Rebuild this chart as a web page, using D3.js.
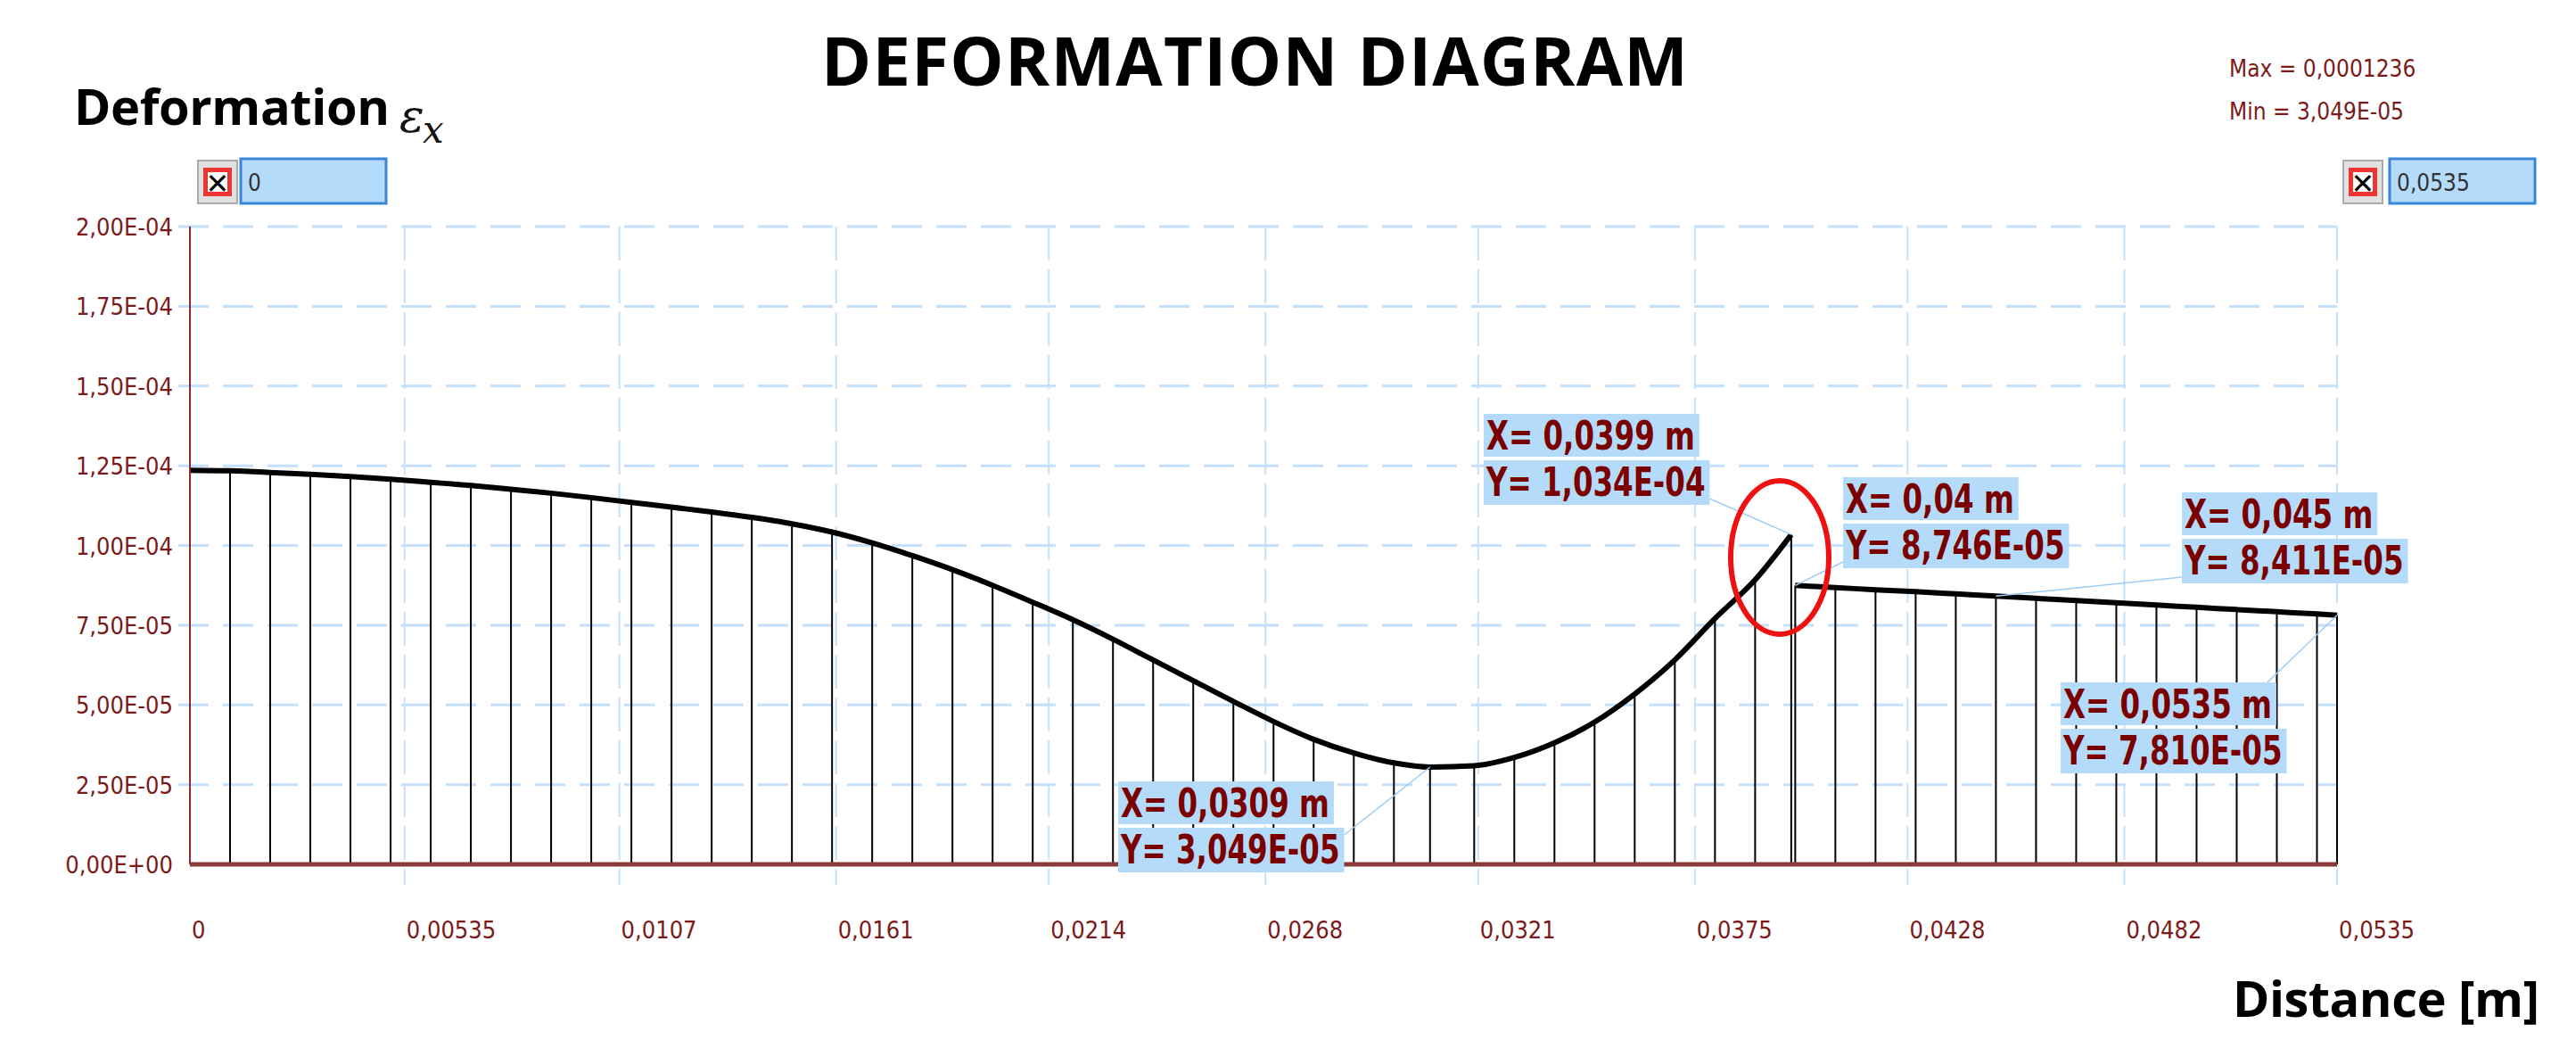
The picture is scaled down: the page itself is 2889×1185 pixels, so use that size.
<!DOCTYPE html>
<html>
<head>
<meta charset="utf-8">
<script src="https://cdn.jsdelivr.net/npm/d3@7"></script>
<style>
  body { margin: 0; background: #fff; }
  svg { display: block; }
</style>
</head>
<body>
<svg id="chart"></svg>
<script>
// distance [m] and strain (in 1e-5)
const xsA = [0, 0.001, 0.002, 0.003, 0.004, 0.005, 0.006, 0.007, 0.008, 0.009, 0.010,
  0.011, 0.012, 0.013, 0.014, 0.015, 0.016, 0.017, 0.018, 0.019, 0.020, 0.021, 0.022,
  0.023, 0.024, 0.025, 0.026, 0.027, 0.028, 0.029, 0.030, 0.0309, 0.032, 0.033, 0.034,
  0.035, 0.036, 0.037, 0.038, 0.039, 0.0399]
const ysA = [12.36, 12.34, 12.29, 12.23, 12.16, 12.08, 11.98, 11.88, 11.76, 11.64, 11.50,
  11.35, 11.20, 11.05, 10.88, 10.68, 10.42, 10.08, 9.68, 9.24, 8.75, 8.22, 7.67,
  7.06, 6.41, 5.76, 5.11, 4.48, 3.92, 3.49, 3.18, 3.049, 3.09, 3.35, 3.81,
  4.46, 5.34, 6.41, 7.71, 8.92, 10.34]
const xsB = [0.04, 0.041, 0.042, 0.043, 0.044, 0.045, 0.046, 0.047, 0.048, 0.049, 0.050,
  0.051, 0.052, 0.053, 0.0535]
const ysB = [8.746, 8.68, 8.61, 8.55, 8.48, 8.411, 8.34, 8.27, 8.20, 8.13, 8.06,
  7.99, 7.92, 7.85, 7.810]

const xTicks = [0, 0.00535, 0.0107, 0.0161, 0.0214, 0.0268, 0.0321, 0.0375, 0.0428, 0.0482, 0.0535]
const xTickLabels = ['0', '0,00535', '0,0107', '0,0161', '0,0214', '0,0268', '0,0321', '0,0375', '0,0428', '0,0482', '0,0535']
const yTicks = [0, 2.5, 5, 7.5, 10, 12.5, 15, 17.5, 20]
const yTickLabels = ['0,00E+00', '2,50E-05', '5,00E-05', '7,50E-05', '1,00E-04', '1,25E-04', '1,50E-04', '1,75E-04', '2,00E-04']

// annotated points: [x, y, line1, line2]
const notes = [
  [0.0399, 10.34, 'X= 0,0399 m', 'Y= 1,034E-04'],
  [0.04, 8.746, 'X= 0,04 m', 'Y= 8,746E-05'],
  [0.045, 8.411, 'X= 0,045 m', 'Y= 8,411E-05'],
  [0.0535, 7.810, 'X= 0,0535 m', 'Y= 7,810E-05'],
  [0.0309, 3.049, 'X= 0,0309 m', 'Y= 3,049E-05']
]
// box top-left corners for each note
const notePos = [[1664, 464], [2067, 535], [2447, 552], [2311, 765], [1254, 876]]

const W = 2889, H = 1185
const svg = d3.select('#chart').attr('width', W).attr('height', H)
  .style('font-family', "'DejaVu Sans Condensed', 'DejaVu Sans', sans-serif")

const x = d3.scaleLinear().domain([0, 0.0535]).range([213, 2621])
const y = d3.scaleLinear().domain([0, 20]).range([969, 254])
const red = '#7a1a1a'
const gridC = '#c4e0fb'

// grid
svg.append('g').selectAll('line').data(yTicks.slice(1)).enter().append('line')
  .attr('x1', 200).attr('x2', x(0.0535))
  .attr('y1', d => y(d)).attr('y2', d => y(d))
  .attr('stroke', gridC).attr('stroke-width', 3).attr('stroke-dasharray', '34,16')
svg.append('g').selectAll('line').data(xTicks.slice(1)).enter().append('line')
  .attr('x1', d => x(d)).attr('x2', d => x(d))
  .attr('y1', 254).attr('y2', 992)
  .attr('stroke', gridC).attr('stroke-width', 2).attr('stroke-dasharray', '38,10')

// stems
const pts = xsA.map((d, i) => [d, ysA[i]]).concat(xsB.map((d, i) => [d, ysB[i]]))
svg.append('g').selectAll('line').data(pts).enter().append('line')
  .attr('x1', d => x(d[0])).attr('x2', d => x(d[0]))
  .attr('y1', y(0)).attr('y2', d => y(d[1]))
  .attr('stroke', '#000').attr('stroke-width', 2)

// curve
const line = d3.line().x(d => x(d[0])).y(d => y(d[1])).curve(d3.curveMonotoneX)
svg.append('path').datum(xsA.map((d, i) => [d, ysA[i]])).attr('d', line)
  .attr('fill', 'none').attr('stroke', '#000').attr('stroke-width', 6)
svg.append('path').datum(xsB.map((d, i) => [d, ysB[i]])).attr('d', line)
  .attr('fill', 'none').attr('stroke', '#000').attr('stroke-width', 6)

// axes
svg.append('line').attr('x1', x(0)).attr('x2', x(0)).attr('y1', 254).attr('y2', y(0))
  .attr('stroke', '#8b2a2a').attr('stroke-width', 2)
svg.append('line').attr('x1', x(0)).attr('x2', x(0.0535)).attr('y1', y(0)).attr('y2', y(0))
  .attr('stroke', '#8b3a3a').attr('stroke-width', 5)

svg.append('g').selectAll('text').data(yTicks).enter().append('text')
  .attr('x', 194).attr('y', d => y(d) + 10).attr('text-anchor', 'end')
  .attr('font-size', 27).attr('fill', red).text((d, i) => yTickLabels[i])
svg.append('g').selectAll('text').data(xTicks).enter().append('text')
  .attr('x', d => x(d) + 2).attr('y', 1052)
  .attr('font-size', 27).attr('fill', red).text((d, i) => xTickLabels[i])

// annotations
const ng = svg.append('g')
notes.forEach((n, i) => {
  const [bx, by] = notePos[i]
  const g = ng.append('g')
  const t1 = g.append('text').attr('x', bx + 3).attr('y', by + 40).text(n[2])
  const t2 = g.append('text').attr('x', bx + 3).attr('y', by + 92).text(n[3])
  g.selectAll('text').attr('font-family', "'DejaVu Sans Condensed', sans-serif")
    .attr('font-weight', 'bold').attr('font-size', 44).attr('fill', '#7a0000')
  // squeeze to a narrow face like the original
  const ws = [t1, t2].map(t => {
    const len = t.node().getComputedTextLength() * 0.82
    t.attr('textLength', len).attr('lengthAdjust', 'spacingAndGlyphs')
    return len + 8
  })
  const [w1, w2] = ws
  g.insert('rect', 'text').attr('x', bx).attr('y', by).attr('width', w1).attr('height', 48).attr('fill', '#b5dbfb')
  g.insert('rect', 'text').attr('x', bx).attr('y', by + 52).attr('width', w2).attr('height', 50).attr('fill', '#b5dbfb')
  const ly = i === 3 ? by : (i === 4 ? by + 60 : by + 95)
  ng.append('line').attr('x1', i === 4 ? bx + w2 : (i === 3 ? bx + w1 - 10 : (i === 0 ? bx + w2 : bx)))
    .attr('y1', ly).attr('x2', x(n[0])).attr('y2', y(n[1]))
    .attr('stroke', '#9fcdf5').attr('stroke-width', 1.5)
})

// red ellipse
svg.append('ellipse').attr('cx', 1996).attr('cy', 625).attr('rx', 55).attr('ry', 86)
  .attr('fill', 'none').attr('stroke', '#ee1111').attr('stroke-width', 6)

// titles
svg.append('text').attr('x', 1407).attr('y', 96).attr('text-anchor', 'middle')
  .attr('font-family', "'Open Sans', sans-serif").attr('font-weight', 'bold')
  .attr('font-size', 76).attr('fill', '#000').attr('textLength', 972).text('DEFORMATION DIAGRAM')
svg.append('text').attr('x', 83).attr('y', 140)
  .attr('font-family', "'Open Sans', sans-serif").attr('font-weight', 'bold')
  .attr('font-size', 56).attr('fill', '#000').attr('textLength', 354).text('Deformation')
svg.append('text').attr('x', 448).attr('y', 148)
  .attr('font-family', "'DejaVu Serif', serif").attr('font-style', 'italic')
  .attr('font-size', 52).attr('fill', '#111').text('ε')
svg.append('text').attr('x', 474).attr('y', 160)
  .attr('font-family', "'DejaVu Serif', serif").attr('font-style', 'italic')
  .attr('font-size', 42).attr('fill', '#111').text('x')
svg.append('text').attr('x', 2848).attr('y', 1140).attr('text-anchor', 'end')
  .attr('font-family', "'Open Sans', sans-serif").attr('font-weight', 'bold')
  .attr('font-size', 56).attr('fill', '#000').attr('textLength', 344).text('Distance [m]')

svg.append('text').attr('x', 2500).attr('y', 86).attr('font-size', 26).attr('fill', red).text('Max = 0,0001236')
svg.append('text').attr('x', 2500).attr('y', 134).attr('font-size', 26).attr('fill', red).text('Min = 3,049E-05')

// the two range inputs
function control(ix, bx, label) {
  const g = svg.append('g')
  g.append('rect').attr('x', ix).attr('y', 180).attr('width', 44).attr('height', 48)
    .attr('fill', '#e0e0e0').attr('stroke', '#aaa').attr('stroke-width', 2)
  g.append('rect').attr('x', ix + 6).attr('y', 188).attr('width', 32).attr('height', 32).attr('fill', '#e33')
  g.append('rect').attr('x', ix + 11).attr('y', 193).attr('width', 22).attr('height', 22).attr('fill', '#fff')
  g.append('text').attr('x', ix + 22).attr('y', 217).attr('text-anchor', 'middle')
    .attr('font-family', "'DejaVu Sans', sans-serif").attr('font-weight', 'bold')
    .attr('font-size', 32).attr('fill', '#000').text('✕')
  g.append('rect').attr('x', bx).attr('y', 178).attr('width', 163).attr('height', 50)
    .attr('fill', '#b5dbfb').attr('stroke', '#3a86d8').attr('stroke-width', 3)
  g.append('text').attr('x', bx + 8).attr('y', 214).attr('font-size', 26).attr('fill', '#333').text(label)
}
control(222, 270, '0')
control(2628, 2680, '0,0535')
</script>
</body>
</html>
